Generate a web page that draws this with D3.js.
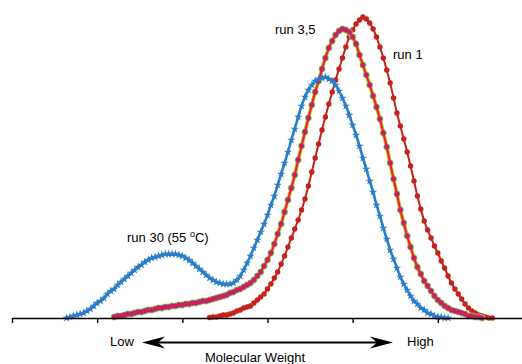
<!DOCTYPE html>
<html><head><meta charset="utf-8">
<script src="https://cdn.jsdelivr.net/npm/d3@7"></script>
<style>
html,body{margin:0;padding:0;background:#fff;}
svg{display:block;font-family:"Liberation Sans",Arial,Helvetica,sans-serif;}
</style></head>
<body><svg id="chart" width="522" height="364"></svg>
<script>
// x: fraction index (log molecular weight axis, low -> high), tick every 25 units
const xTicks = [0, 25, 50, 75, 100, 125];
// run 30 (55 °C) — first index and detector signal values
const run30Start = 16;
const run30 = [0,1,2,3,4,5,7,9,12,15,17,20,24,27,29,33,36,39,42,45,48,51,53,56,58,60,61,62,63,64,64,64,64,63,62,60,58,55,52,49,46,43,40,38,36,35,34,34,34,35,38,42,48,55,62,70,78,86,94,103,113,122,133,144,155,166,178,189,201,212,221,228,233,237,239,240,241,239,237,233,227,220,212,203,193,183,172,160,149,137,126,113,102,90,79,68,59,50,41,34,28,22,17,14,10,8,5,4,2,1,1,0,0];
// run 3 and run 5 (overlapping)
const run35Start = 30;
const run35 = [1,2,2,3,4,4,5,6,6,7,8,8,9,10,10,11,11,12,12,13,13,14,14,15,15,16,17,17,18,19,20,21,22,23,25,26,28,29,31,33,35,38,42,46,52,58,65,74,84,94,106,118,130,143,158,172,186,200,213,226,237,249,260,270,277,283,287,289,288,286,281,274,263,253,243,233,222,211,199,185,171,155,139,124,108,95,82,71,60,51,44,37,32,27,22,18,15,12,10,8,7,6,5,4,2,2,1,1,0];
// run 1
const run1Start = 58;
const run1 = [0.5,1,1,2,3,3,4,5,7,8,10,11,12,15,18,21,24,29,34,40,46,54,62,71,80,89,98,108,119,132,146,160,174,188,201,214,226,238,249,260,271,281,288,294,298,301,299,295,289,281,271,260,248,235,220,205,192,179,166,152,137,122,109,97,88,80,72,65,57,50,42,35,29,24,19,14,10,7,5,3,2,1,0,0];
const labels = ["run 1", "run 3,5", "run 30 (55 ", "o", "C)"];
const axisLabels = ["Low", "High", "Molecular Weight"];

const svg = d3.select("#chart");
const x = d3.scaleLinear().domain([0, 150]).range([12, 523]);
const y = d3.scaleLinear().domain([0, 301]).range([318, 17]);

const toPts = (start, arr) => arr.map((v, i) => [start + i, v]);
const line = d3.line().x(d => x(d[0])).y(d => y(d[1])).curve(d3.curveMonotoneX);

// run 1 (dark red)
const p1 = toPts(run1Start, run1);
svg.append("path").attr("d", line(p1)).attr("fill", "none").attr("stroke", "#c4231b").attr("stroke-width", 2);
svg.append("g").selectAll("circle").data(p1).join("circle")
  .attr("cx", d => x(d[0])).attr("cy", d => y(d[1])).attr("r", 2.7).attr("fill", "#c4231b");

// run 3 (green) + run 5 (red line, pink markers)
const p35 = toPts(run35Start, run35);
svg.append("path").attr("d", line(p35)).attr("fill", "none").attr("stroke", "#a8d64a").attr("stroke-width", 4);
svg.append("g").selectAll("circle").data(p35).join("circle")
  .attr("cx", d => x(d[0])).attr("cy", d => y(d[1])).attr("r", 3.4).attr("fill", "#a8d64a");
svg.append("path").attr("d", line(p35)).attr("fill", "none").attr("stroke", "#ff1a1a").attr("stroke-width", 2);
svg.append("g").selectAll("circle").data(p35).join("circle")
  .attr("cx", d => x(d[0])).attr("cy", d => y(d[1])).attr("r", 2.4)
  .attr("fill", "#ea1440").attr("stroke", "#6a48b8").attr("stroke-width", 0.7);

// run 30 (blue)
const p30 = toPts(run30Start, run30);
svg.append("path").attr("d", line(p30)).attr("fill", "none").attr("stroke", "#2a7ec8").attr("stroke-width", 2.6);
const star = d3.symbol().type(d3.symbolStar).size(22);
svg.append("g").selectAll("path").data(p30).join("path")
  .attr("transform", d => `translate(${x(d[0])},${y(d[1])})`).attr("d", star).attr("fill", "#2a7ec8");

// x axis
const axis = d3.axisBottom(x).tickValues(xTicks).tickSize(5).tickFormat("").tickSizeOuter(0);
const ag = svg.append("g").attr("transform", "translate(0,318)").call(axis);
ag.select(".domain").attr("stroke", "#000").attr("stroke-width", 1.6);
ag.selectAll(".tick line").attr("stroke", "#000").attr("stroke-width", 1.4);

// labels
const fs = 13;
svg.append("text").attr("x", 393).attr("y", 59).attr("font-size", fs).text(labels[0]);
svg.append("text").attr("x", 275).attr("y", 34).attr("font-size", fs).text(labels[1]);
const t30 = svg.append("text").attr("x", 127).attr("y", 242).attr("font-size", fs);
t30.append("tspan").text(labels[2]);
t30.append("tspan").attr("font-size", 9).attr("dy", -5).text(labels[3]);
t30.append("tspan").attr("dy", 5).text(labels[4]);

svg.append("text").attr("x", 110).attr("y", 346).attr("font-size", fs).text(axisLabels[0]);
svg.append("text").attr("x", 407).attr("y", 346).attr("font-size", fs).text(axisLabels[1]);
svg.append("text").attr("x", 255).attr("y", 362).attr("text-anchor", "middle").attr("font-size", fs).text(axisLabels[2]);

// double arrow
const ay = 342.5;
svg.append("line").attr("x1", 150).attr("x2", 385).attr("y1", ay).attr("y2", ay).attr("stroke", "#000").attr("stroke-width", 2);
svg.append("path").attr("d", `M142,${ay} L165,${ay-6} L158,${ay} L165,${ay+6} Z`).attr("fill", "#000");
svg.append("path").attr("d", `M393,${ay} L370,${ay-6} L377,${ay} L370,${ay+6} Z`).attr("fill", "#000");
</script></body></html>
